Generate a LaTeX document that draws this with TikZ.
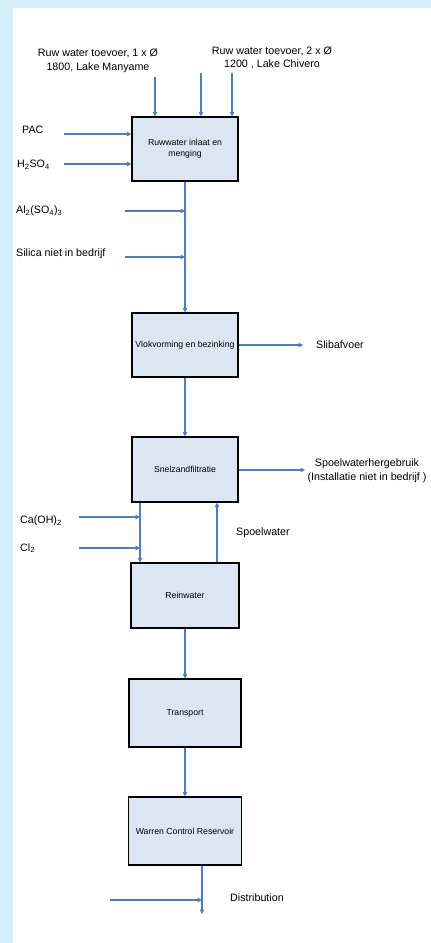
\documentclass[tikz,border=0pt]{standalone}
\usepackage{fontspec}
\setmainfont{Liberation Sans}
\usetikzlibrary{arrows.meta, positioning, calc}
\definecolor{flowblue}{RGB}{74,126,190}
\definecolor{boxfill}{RGB}{220,230,242}
\definecolor{pageblue}{RGB}{214,238,250}

\begin{document}
\begin{tikzpicture}[
  x=1pt, y=-1pt,
  stage/.style={rectangle, draw, line width=1.2pt, fill=boxfill,
               minimum width=106pt, minimum height=64pt, align=center,
               font=\fontsize{8.7}{11}\selectfont},
  arr/.style={-{Triangle[length=4.5pt,width=4.5pt]}, draw=flowblue, line width=1.1pt},
  lbl/.style={font=\fontsize{10.7}{13.5}\selectfont, inner sep=0pt, align=center}
]
  % page frame
  \fill[pageblue] (0,0) rectangle (431,943);
  \fill[white] (13,8) rectangle (431,943);

  % process stages
  \node[stage] (inlet)  at (185,149)   {Ruwwater inlaat en\\menging};
  \node[stage] (floc)   at (185,345)   {Vlokvorming en bezinking};
  \node[stage, minimum height=65pt] (filter) at (185,469.5) {Snelzandfiltratie};
  \node[stage, minimum width=108pt, minimum height=65pt] (clean) at (185,595.5) {Reinwater};
  \node[stage, minimum width=112pt, minimum height=68pt] (transp) at (185,713) {Transport};
  \node[stage, minimum width=113pt, minimum height=68pt] (warren) at (185,831) {Warren Control Reservoir};

  % labels
  \node[lbl] (manyame) at (98,61)  {Ruw water toevoer, 1 x Ø\\1800, Lake Manyame};
  \node[lbl] (chivero) at (272,58) {Ruw water toevoer, 2 x Ø\\1200 , Lake Chivero};
  \node[lbl, anchor=west] (pac)    at (22,130)  {PAC};
  \node[lbl, anchor=west] (acid)   at (17,165)  {H\textsubscript{2}SO\textsubscript{4}};
  \node[lbl, anchor=west] (alum)   at (16,211)  {Al\textsubscript{2}(SO\textsubscript{4})\textsubscript{3}};
  \node[lbl, anchor=west] (silica) at (16,254)  {Silica niet in bedrijf};
  \node[lbl, anchor=west] (sludge) at (316,345) {Slibafvoer};
  \node[lbl] (reuse) at (367,470.5) {Spoelwaterhergebruik\\(Installatie niet in bedrijf )};
  \node[lbl, anchor=west] (lime)   at (20,521)  {Ca(OH)\textsubscript{2}};
  \node[lbl, anchor=west] (chlor)  at (20,548)  {Cl\textsubscript{2}};
  \node[lbl, anchor=west] (rinse)  at (236,533) {Spoelwater};
  \node[lbl, anchor=west] (distr)  at (230,898) {Distribution};

  % loose ends
  \coordinate (in1) at (155,77);
  \coordinate (in2) at (201,73);
  \coordinate (in3) at (232,73);
  \coordinate (pacs) at (64,134);
  \coordinate (acids) at (64,164);
  \coordinate (als) at (125,211);
  \coordinate (sils) at (125,257);
  \coordinate (sle) at (303,345);
  \coordinate (rue) at (305,470);
  \coordinate (limes) at (79,517);
  \coordinate (chls) at (79,548);
  \coordinate (dis) at (110,900);
  \coordinate (out) at (202,914);

  % connectors
  \foreach \a in {in1,in2,in3}
    \draw[arr] (\a) -- (\a |- inlet.north);
  \foreach \a in {pacs,acids}
    \draw[arr] (\a) -- (\a -| inlet.west);
  \foreach \a/\b in {inlet/floc,floc/filter,clean/transp,transp/warren}
    \draw[arr] (\a) -- (\b);
  \foreach \a in {als,sils}
    \draw[arr] (\a) -- (\a -| inlet.south);
  \draw[arr] (floc.east |- sle) -- (sle);
  \draw[arr] (filter.east |- rue) -- (rue);
  \draw[arr] (filter.south -| 140,0) -- (clean.north -| 140,0);
  \foreach \a in {limes,chls}
    \draw[arr] (\a) -- (\a -| 140,0);
  \draw[arr] (clean.north -| 217,0) -- (filter.south -| 217,0);
  \draw[arr] (warren.south -| out) -- (out);
  \draw[arr] (dis) -- (dis -| out);
\end{tikzpicture}
\end{document}
